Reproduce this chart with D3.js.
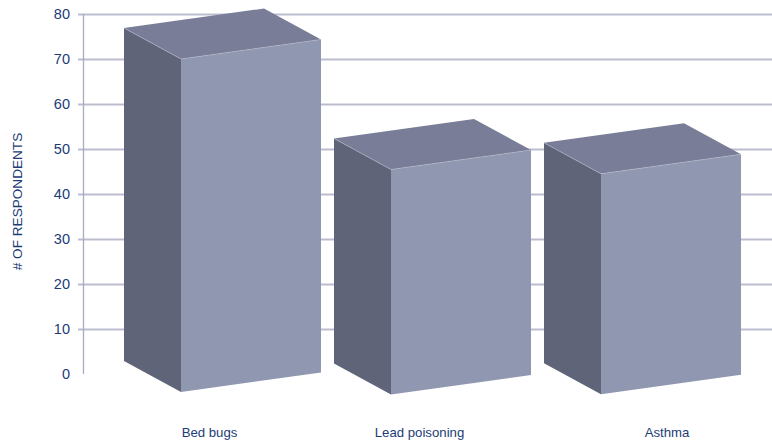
<!DOCTYPE html>
<html>
<head>
<meta charset="utf-8">
<title># of respondents</title>
<script src="https://d3js.org/d3.v7.min.js"></script>
<style>
  html, body { margin: 0; padding: 0; background: #fff; }
  svg { display: block; }
  text { font-family: "Liberation Sans", Arial, sans-serif; fill: #1c3c76; }
</style>
</head>
<body>
<div id="chart"></div>
<script>
  // chart data
  var categories = ["Bed bugs", "Lead poisoning", "Asthma"];
  var respondents = [74, 50, 49];
  var yTicks = [0, 10, 20, 30, 40, 50, 60, 70, 80];

  var width = 772, height = 445;

  // box projection: how far the side and the front lean on screen
  var depth = {dx: -57, dy: -31};
  var span = {dx: 140, dy: -19.5};
  // front corner sits a little below the zero line, not the same for each box
  var baseDrop = [18, 20.5, 20.3];
  var labelShift = [0, 0, 37.5];

  var svg = d3.select("#chart").append("svg")
    .attr("width", width)
    .attr("height", height);

  var y = d3.scaleLinear().domain([0, 80]).range([374, 14]);
  var x = d3.scalePoint().domain(categories).range([181, 601]);

  // gridlines and tick stubs come from the axis
  var axis = d3.axisLeft(y)
    .tickValues(yTicks)
    .tickSize(-(width - 78))
    .tickPadding(8);

  var axisG = svg.append("g")
    .attr("transform", "translate(78,0)")
    .call(axis);
  axisG.select(".domain").remove();
  axisG.selectAll("line")
    .attr("stroke", "#bbbdcf")
    .attr("stroke-width", 1.8)
    .filter(function(d) { return d === 0; }).remove();
  axisG.selectAll("text")
    .attr("x", -8)
    .style("font-size", "14.5px")
    .style("font-family", "'Liberation Sans', Arial, sans-serif");

  svg.append("line")
    .attr("x1", 83.5).attr("x2", 83.5)
    .attr("y1", y(80)).attr("y2", y(0))
    .attr("stroke", "#a9abbf")
    .attr("stroke-width", 1.3);

  svg.append("text")
    .attr("transform", "translate(22,201.5) rotate(-90)")
    .attr("text-anchor", "middle")
    .style("font-size", "13.6px")
    .text("# OF RESPONDENTS");

  function pts(list) {
    return list.map(function(p) { return p[0] + "," + p[1]; }).join(" ");
  }

  var bars = svg.append("g").selectAll("g")
    .data(categories)
    .enter().append("g");

  bars.each(function(name, i) {
    var g = d3.select(this);
    var h = y(0) - y(respondents[i]);
    var fx = x(name);
    var fb = y(0) + baseDrop[i];
    var ft = fb - h;

    // side face
    g.append("polygon")
      .attr("fill", "#5f6478")
      .attr("points", pts([
        [fx, ft], [fx + depth.dx, ft + depth.dy],
        [fx + depth.dx, fb + depth.dy], [fx, fb]
      ]));
    // top face
    g.append("polygon")
      .attr("fill", "#797d97")
      .attr("points", pts([
        [fx, ft], [fx + depth.dx, ft + depth.dy],
        [fx + depth.dx + span.dx, ft + depth.dy + span.dy],
        [fx + span.dx, ft + span.dy]
      ]));
    // front face
    g.append("polygon")
      .attr("fill", "#9097b0")
      .attr("points", pts([
        [fx, ft], [fx + span.dx, ft + span.dy],
        [fx + span.dx, fb + span.dy], [fx, fb]
      ]));
    // thin light seam along the top edges
    g.append("polyline")
      .attr("fill", "none")
      .attr("stroke", "#b4b7c8")
      .attr("stroke-width", 0.6)
      .attr("points", pts([
        [fx + depth.dx, ft + depth.dy], [fx, ft], [fx + span.dx, ft + span.dy]
      ]));

    g.append("text")
      .attr("x", fx + 28.5 + labelShift[i])
      .attr("y", 436.5)
      .attr("text-anchor", "middle")
      .style("font-size", "13.2px")
      .text(name);
  });
</script>
</body>
</html>
